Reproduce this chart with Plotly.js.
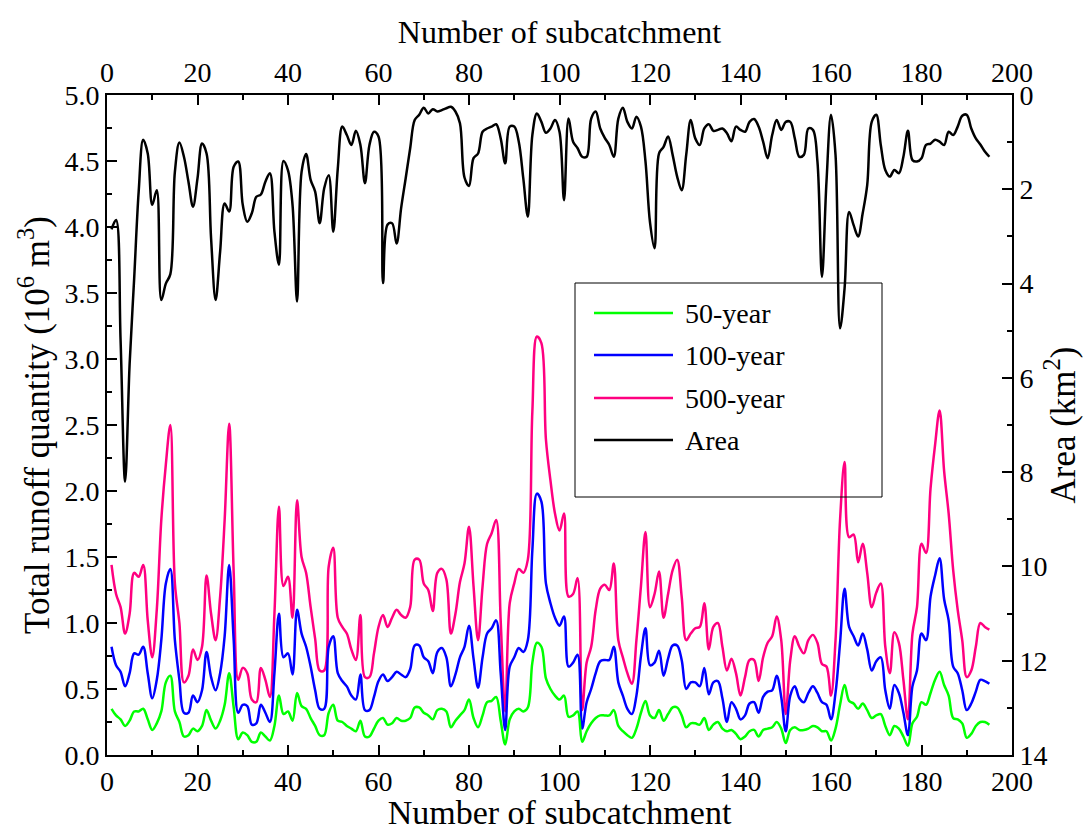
<!DOCTYPE html>
<html>
<head>
<meta charset="utf-8">
<script src="https://cdn.plot.ly/plotly-3.0.1.min.js"></script>
<style>html,body{margin:0;padding:0;background:#fff;}#chart{width:1088px;height:831px;}</style>
</head>
<body>
<div id="chart"></div>
<script>
// Subcatchment numbers 1..195
var subcatchments = [];
for (var i = 1; i <= 195; i++) subcatchments.push(i);

var seriesNames = ["50-year", "100-year", "500-year", "Area"];

var runoff50 = [0.35,0.3,0.27,0.22,0.26,0.33,0.33,0.35,0.27,0.19,0.24,0.33,0.55,0.6,0.33,0.25,0.14,0.15,0.2,0.18,
0.22,0.34,0.26,0.2,0.26,0.38,0.62,0.36,0.12,0.17,0.15,0.1,0.1,0.17,0.14,0.11,0.22,0.45,0.31,0.33,
0.26,0.47,0.37,0.35,0.28,0.22,0.15,0.15,0.32,0.38,0.26,0.25,0.22,0.2,0.18,0.26,0.14,0.14,0.2,0.26,
0.28,0.23,0.24,0.28,0.26,0.26,0.28,0.36,0.36,0.32,0.3,0.27,0.34,0.35,0.33,0.21,0.26,0.3,0.34,0.42,
0.28,0.21,0.3,0.4,0.41,0.44,0.26,0.08,0.27,0.33,0.35,0.33,0.36,0.7,0.85,0.82,0.58,0.5,0.45,0.42,
0.45,0.29,0.3,0.33,0.1,0.18,0.24,0.28,0.3,0.3,0.3,0.34,0.22,0.18,0.15,0.13,0.2,0.32,0.41,0.3,
0.28,0.34,0.26,0.31,0.36,0.36,0.3,0.21,0.24,0.24,0.23,0.28,0.19,0.23,0.25,0.2,0.18,0.19,0.16,0.12,
0.14,0.18,0.19,0.14,0.19,0.2,0.21,0.25,0.2,0.09,0.19,0.21,0.19,0.19,0.2,0.22,0.21,0.18,0.18,0.11,
0.2,0.38,0.53,0.41,0.39,0.35,0.39,0.34,0.28,0.3,0.31,0.22,0.15,0.22,0.2,0.14,0.07,0.24,0.29,0.4,
0.38,0.47,0.57,0.63,0.53,0.45,0.28,0.27,0.24,0.13,0.16,0.22,0.25,0.25,0.23];

var runoff100 = [0.82,0.68,0.63,0.52,0.62,0.77,0.76,0.82,0.62,0.43,0.57,0.87,1.3,1.41,0.87,0.57,0.32,0.32,0.45,0.4,
0.49,0.78,0.59,0.49,0.62,0.9,1.44,0.87,0.32,0.38,0.37,0.23,0.24,0.38,0.32,0.25,0.62,1.07,0.74,0.77,
0.61,1.1,0.92,0.82,0.67,0.49,0.35,0.35,0.82,0.9,0.62,0.56,0.52,0.45,0.42,0.61,0.34,0.34,0.44,0.56,
0.61,0.56,0.59,0.63,0.61,0.59,0.65,0.83,0.83,0.74,0.71,0.62,0.78,0.81,0.74,0.52,0.61,0.74,0.82,0.98,
0.73,0.51,0.74,0.92,0.96,1.02,0.62,0.19,0.67,0.74,0.81,0.78,0.87,1.55,1.98,1.92,1.3,1.15,1.04,0.98,
1.05,0.67,0.7,0.76,0.2,0.4,0.5,0.62,0.71,0.72,0.72,0.82,0.55,0.45,0.35,0.31,0.45,0.75,0.96,0.68,
0.7,0.79,0.6,0.73,0.83,0.83,0.72,0.5,0.55,0.55,0.52,0.66,0.46,0.55,0.56,0.43,0.25,0.4,0.35,0.27,
0.3,0.39,0.4,0.32,0.44,0.48,0.49,0.6,0.44,0.18,0.45,0.52,0.43,0.4,0.47,0.52,0.47,0.4,0.38,0.27,
0.47,0.85,1.26,0.97,0.9,0.83,0.92,0.8,0.64,0.71,0.74,0.49,0.35,0.53,0.47,0.32,0.15,0.52,0.64,0.92,
0.87,1.2,1.36,1.49,1.18,1.02,0.67,0.62,0.49,0.34,0.39,0.48,0.57,0.56,0.54];

var runoff500 = [1.44,1.22,1.12,0.92,1.07,1.38,1.35,1.44,1.02,0.74,1.1,1.78,2.2,2.5,1.3,1.0,0.55,0.6,0.8,0.72,
0.82,1.36,1.07,0.87,1.2,1.78,2.51,1.38,0.57,0.66,0.62,0.42,0.4,0.66,0.57,0.44,1.07,1.88,1.28,1.35,
1.04,1.93,1.5,1.38,1.12,0.88,0.64,0.64,1.43,1.57,1.04,0.97,0.92,0.8,0.72,1.06,0.59,0.59,0.77,0.97,
1.06,0.97,1.04,1.1,1.06,1.04,1.12,1.48,1.48,1.3,1.25,1.09,1.38,1.41,1.33,0.92,1.07,1.31,1.45,1.73,
1.28,0.87,1.28,1.6,1.68,1.78,1.02,0.33,1.15,1.3,1.41,1.38,1.48,2.6,3.17,3.12,2.39,2.08,1.83,1.7,
1.83,1.2,1.22,1.34,0.34,0.7,0.82,1.1,1.26,1.29,1.25,1.45,0.87,0.74,0.62,0.54,0.87,1.28,1.69,1.12,
1.22,1.39,1.04,1.22,1.4,1.48,1.2,0.87,0.92,0.96,0.97,1.15,0.8,0.97,1.0,0.82,0.64,0.73,0.62,0.45,
0.59,0.72,0.72,0.56,0.74,0.85,0.9,1.05,0.87,0.31,0.72,0.9,0.82,0.77,0.87,0.91,0.85,0.69,0.67,0.45,
0.87,1.78,2.22,1.65,1.67,1.46,1.6,1.38,1.12,1.23,1.3,0.82,0.62,0.93,0.85,0.57,0.27,0.92,1.12,1.6,
1.53,2.02,2.35,2.61,2.15,1.83,1.4,1.1,0.87,0.59,0.64,0.82,1.0,0.97,0.95];

var areaKm2 = [2.85,2.65,5.2,8.2,5.7,3.9,2.05,0.95,1.24,2.33,2.02,4.35,4.0,3.8,1.63,1.01,1.31,1.84,2.37,1.77,
1.03,1.24,3.04,4.35,3.32,2.3,2.47,1.52,1.41,2.33,2.69,2.51,2.16,2.11,1.84,1.66,2.9,3.6,1.4,1.6,
2.33,4.38,1.63,1.25,1.8,2.05,2.72,1.98,1.7,2.9,1.56,0.67,0.85,1.06,0.76,1.06,1.87,1.06,0.78,0.88,
3.99,2.75,2.72,3.15,2.4,1.77,1.13,0.53,0.42,0.27,0.39,0.3,0.35,0.32,0.28,0.25,0.35,0.6,1.75,1.93,
1.34,1.24,0.78,0.71,0.67,0.62,0.92,1.45,0.67,0.67,0.99,1.77,2.58,0.85,0.39,0.57,0.8,0.71,0.53,0.78,
2.23,0.5,0.99,1.13,1.31,1.31,0.5,0.35,0.71,0.91,1.06,1.31,0.5,0.27,0.57,0.71,0.46,0.67,1.41,2.7,
3.25,1.24,1.1,0.88,1.27,1.73,2.02,1.27,0.53,0.92,1.06,0.71,0.62,0.76,0.74,0.71,0.81,0.98,0.67,0.74,
0.78,0.57,0.51,0.67,0.99,1.34,0.85,0.53,0.74,0.57,0.57,0.92,1.31,1.27,0.71,0.74,1.41,3.86,1.84,0.42,
1.27,4.95,4.1,2.48,2.76,3.0,2.51,1.91,0.57,0.42,1.06,1.59,1.73,1.59,1.66,1.31,0.76,1.38,1.41,1.34,
1.06,1.03,0.95,0.99,1.06,0.78,0.85,0.67,0.44,0.42,0.71,0.92,1.05,1.2,1.31];

var colors = ["#00ff00", "#0000ff", "#ff0080", "#000000"];
var FONT = "'Liberation Serif', 'Times New Roman', serif";

var traces = [
  {x: subcatchments, y: runoff500, name: seriesNames[2], type: "scatter", mode: "lines",
   line: {color: colors[2], width: 2.5, shape: "spline", smoothing: 1}, xaxis: "x", yaxis: "y", showlegend: false},
  {x: subcatchments, y: runoff100, name: seriesNames[1], type: "scatter", mode: "lines",
   line: {color: colors[1], width: 2.5, shape: "spline", smoothing: 1}, xaxis: "x", yaxis: "y", showlegend: false},
  {x: subcatchments, y: runoff50, name: seriesNames[0], type: "scatter", mode: "lines",
   line: {color: colors[0], width: 2.5, shape: "spline", smoothing: 1}, xaxis: "x", yaxis: "y", showlegend: false},
  {x: subcatchments, y: areaKm2, name: seriesNames[3], type: "scatter", mode: "lines",
   line: {color: colors[3], width: 2.5, shape: "spline", smoothing: 1}, xaxis: "x2", yaxis: "y2", showlegend: false}
];

function px2x(p){ return (p - 107) / 905; }
function px2y(p){ return (755 - p) / 660; }

var legendRows = [313, 355, 398, 440];
var shapes = [{type: "rect", xref: "paper", yref: "paper",
  x0: px2x(575), x1: px2x(882), y0: px2y(497), y1: px2y(283),
  line: {color: "#000", width: 1}, fillcolor: "rgba(0,0,0,0)", layer: "above"}];
var annotations = [];
for (var k = 0; k < 4; k++) {
  shapes.push({type: "line", xref: "paper", yref: "paper",
    x0: px2x(594), x1: px2x(673), y0: px2y(legendRows[k]), y1: px2y(legendRows[k]),
    line: {color: colors[k], width: 2.5}, layer: "above"});
  annotations.push({xref: "paper", yref: "paper", x: px2x(683), y: px2y(legendRows[k]),
    xanchor: "left", yanchor: "middle", showarrow: false, text: seriesNames[k],
    font: {family: FONT, size: 28, color: "#000"}});
}

var axisCommon = {
  showline: true, linecolor: "#000", linewidth: 2, ticks: "inside", ticklen: 10, tickwidth: 2,
  tickcolor: "#000", showgrid: false, zeroline: false, automargin: false,
  tickfont: {family: FONT, size: 28, color: "#000"}
};

var layout = {
  width: 1088, height: 831,
  margin: {l: 107, r: 76, t: 95, b: 76, pad: 0},
  paper_bgcolor: "#fff", plot_bgcolor: "#fff",
  showlegend: false,
  font: {family: FONT, color: "#000"},
  xaxis: Object.assign({}, axisCommon, {
    range: [0, 200], dtick: 20, tick0: 0, side: "bottom", anchor: "y",
    minor: {dtick: 10, ticks: "inside", ticklen: 5, tickwidth: 2, tickcolor: "#000"},
    title: {text: "Number of subcatchment", font: {family: FONT, size: 34, color: "#000"}, standoff: 2}
  }),
  xaxis2: Object.assign({}, axisCommon, {
    range: [0, 200], dtick: 20, tick0: 0, side: "top", overlaying: "x", anchor: "y2",
    minor: {dtick: 10, ticks: "inside", ticklen: 5, tickwidth: 2, tickcolor: "#000"},
    title: {text: "Number of subcatchment", font: {family: FONT, size: 32, color: "#000"}, standoff: 4}
  }),
  yaxis: Object.assign({}, axisCommon, {
    range: [0, 5], dtick: 0.5, tick0: 0, tickformat: ".1f", side: "left", anchor: "x",
    minor: {dtick: 0.25, ticks: "inside", ticklen: 5, tickwidth: 2, tickcolor: "#000"},
    title: {text: "Total runoff quantity (10<sup>6</sup> m<sup>3</sup>)", font: {family: FONT, size: 35, color: "#000"}, standoff: 4}
  }),
  yaxis2: Object.assign({}, axisCommon, {
    range: [14, 0], dtick: 2, tick0: 0, side: "right", overlaying: "y", anchor: "x2",
    minor: {dtick: 1, ticks: "inside", ticklen: 5, tickwidth: 2, tickcolor: "#000"},
    title: {text: "Area (km<sup>2</sup>)", font: {family: FONT, size: 35, color: "#000"}, standoff: 4}
  }),
  shapes: shapes,
  annotations: annotations
};

Plotly.newPlot("chart", traces, layout, {displayModeBar: false, staticPlot: true});
</script>
</body>
</html>
